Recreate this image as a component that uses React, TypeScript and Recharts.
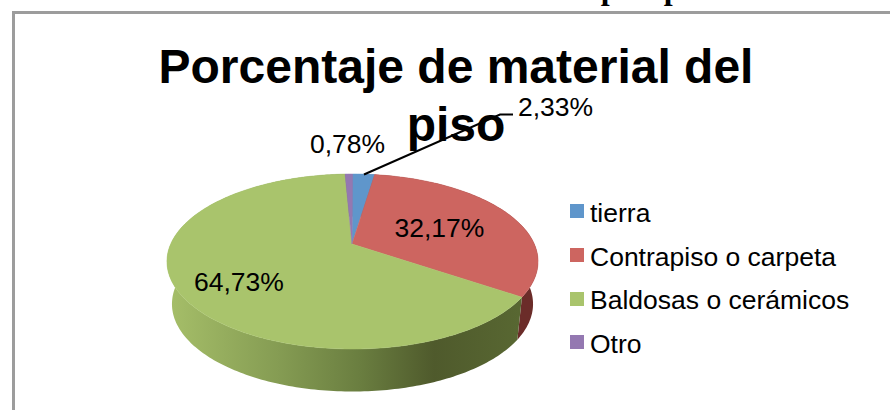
import { PieChart, Pie, Legend } from 'recharts';

const categories = ['tierra', 'Contrapiso o carpeta', 'Baldosas o cerámicos', 'Otro'];
const shares = [2.33, 32.17, 64.73, 0.78];
const shareLabels = ['2,33%', '32,17%', '64,73%', '0,78%'];
const colors = ['#5f96cb', '#cd6560', '#a9c46c', '#9478b1'];
const wallFills = ['#3a5a80', '#6b2c29', 'url(#greenWall)', '#5a4670'];

const pieData = categories.map((name, i) => ({
    name,
    value: shares[i],
    fill: colors[i],
    wall: wallFills[i],
}));

const FONT = '"Liberation Sans", Arial, sans-serif';
const CX = 352;
const CY = 244;

// tilted disc: the centre of the slices sits above the centre of the drawn ellipse
const TILT = 0.2;
const RADIUS_X = 181.8;
const RADIUS_Y = 84;
const TOP_MID_Y = 261.5;
const FLOOR_MID_Y = 304;
const FLOOR_SCALE_X = 0.973;

function rimPoint(deg: number) {
    const t = ((90 - deg) * Math.PI) / 180;
    const u = Math.sin(t);
    const v = -Math.cos(t);
    const w = 1 - TILT * v;
    return { x: CX + 0.5 + (RADIUS_X * u) / w, y: CY + (RADIUS_Y * v) / w };
}

function floorPoint(deg: number) {
    const p = rimPoint(deg);
    return { x: CX + 0.5 + (p.x - CX - 0.5) * FLOOR_SCALE_X, y: FLOOR_MID_Y + (p.y - TOP_MID_Y) };
}

function sweep(from: number, to: number, fn: (d: number) => { x: number; y: number }) {
    const pts = [];
    const steps = Math.max(2, Math.ceil(Math.abs(to - from)));
    for (let i = 0; i <= steps; i++) {
        const p = fn(from + ((to - from) * i) / steps);
        pts.push(`${p.x.toFixed(2)} ${p.y.toFixed(2)}`);
    }
    return pts;
}

function TopSlice(props: any) {
    const { cx, cy, startAngle, endAngle, fill } = props;
    const d = `M${cx} ${cy} L${sweep(startAngle, endAngle, rimPoint).join(' L')} Z`;
    return <path d={d} fill={fill} stroke={fill} strokeWidth={0.5} />;
}

function WallSlice(props: any) {
    const { startAngle, endAngle, payload, wall } = props;
    const top = sweep(startAngle, endAngle, rimPoint);
    const floor = sweep(endAngle, startAngle, floorPoint);
    return <path d={`M${[...top, ...floor].join(' L')} Z`} fill={wall ?? payload?.wall} />;
}

const labelSpots = [
    { x: 518, y: 116 },
    { x: 394.5, y: 237 },
    { x: 194, y: 291 },
    { x: 310, y: 153 },
];

function sliceLabel(props: any) {
    const { index } = props;
    const spot = labelSpots[index];
    return (
        <g key={index}>
            {index === 0 && (
                <polyline points="364,174.5 500,114.5 513,114.5" fill="none" stroke="#000" strokeWidth={2} />
            )}
            <text x={spot.x} y={spot.y} fontFamily={FONT} fontSize={26.5} fill="#000">
                {shareLabels[index]}
            </text>
        </g>
    );
}

function LegendList({ payload }: any) {
    // the wall series stays out of the legend
    const entries = categories.map((name) =>
        (payload ?? []).find((e: any) => e.value === name && e.type !== 'none')
    ).filter(Boolean);
    return (
        <div style={{ fontFamily: FONT, fontSize: 26.5, color: '#000' }}>
            {entries.map((entry: any) => (
                <div key={entry.value} style={{ display: 'flex', alignItems: 'center', height: 43.7 }}>
                    <span style={{ width: 14, height: 14, background: entry.color, marginRight: 6 }} />
                    <span style={{ lineHeight: '30px', whiteSpace: 'nowrap', position: 'relative', top: 1.5 }}>{entry.value}</span>
                </div>
            ))}
        </div>
    );
}

export default function App() {
    return (
        <div style={{ position: 'absolute', left: 0, top: 0, width: 890, height: 410, background: '#fff', overflow: 'hidden' }}>
            <div style={{
                position: 'absolute', right: 153, top: -28.5, lineHeight: '32px',
                fontFamily: '"Liberation Serif", serif', fontWeight: 700, fontSize: 32, whiteSpace: 'nowrap', color: '#000'
            }}>
                Gráfico Nº 11: material de construcción del piso por S
            </div>
            <div style={{
                position: 'absolute', left: 12, top: 11, width: 900, height: 420,
                borderLeft: '3px solid #9c9c9c', borderTop: '3px solid #9c9c9c'
            }} />
            <div style={{ position: 'absolute', left: 0, top: 0 }}>
                <PieChart width={890} height={410} margin={{ top: 0, right: 0, bottom: 0, left: 0 }}>
                    <defs>
                        <linearGradient id="greenWall" gradientUnits="userSpaceOnUse" x1="167" y1="0" x2="538" y2="0">
                            <stop offset="0%" stopColor="#a6bf69" />
                            <stop offset="30%" stopColor="#859c53" />
                            <stop offset="52%" stopColor="#6a7e40" />
                            <stop offset="72%" stopColor="#4f5a2c" />
                            <stop offset="100%" stopColor="#5a6a33" />
                        </linearGradient>
                    </defs>
                    <text x={456} y={82.5} textAnchor="middle" fontFamily={FONT} fontWeight={700} fontSize={48} fill="#000">
                        Porcentaje de material del
                    </text>
                    <text x={456} y={141} textAnchor="middle" fontFamily={FONT} fontWeight={700} fontSize={48} fill="#000">
                        piso
                    </text>
                    <Pie
                        data={pieData}
                        dataKey="value"
                        nameKey="name"
                        cx={CX}
                        cy={CY}
                        outerRadius={180}
                        startAngle={90}
                        endAngle={-270}
                        stroke="none"
                        legendType="none"
                        shape={WallSlice}
                        isAnimationActive={false}
                    />
                    <Pie
                        data={pieData}
                        dataKey="value"
                        nameKey="name"
                        cx={CX}
                        cy={CY}
                        outerRadius={180}
                        startAngle={90}
                        endAngle={-270}
                        stroke="none"
                        shape={TopSlice}
                        label={sliceLabel}
                        labelLine={false}
                        isAnimationActive={false}
                    />
                    <Legend
                        layout="vertical"
                        content={LegendList}
                        itemSorter={null}
                        wrapperStyle={{ position: 'absolute', left: 570, top: 189.5, width: 300, bottom: 'auto', right: 'auto' }}
                    />
                </PieChart>
            </div>
        </div>
    );
}
